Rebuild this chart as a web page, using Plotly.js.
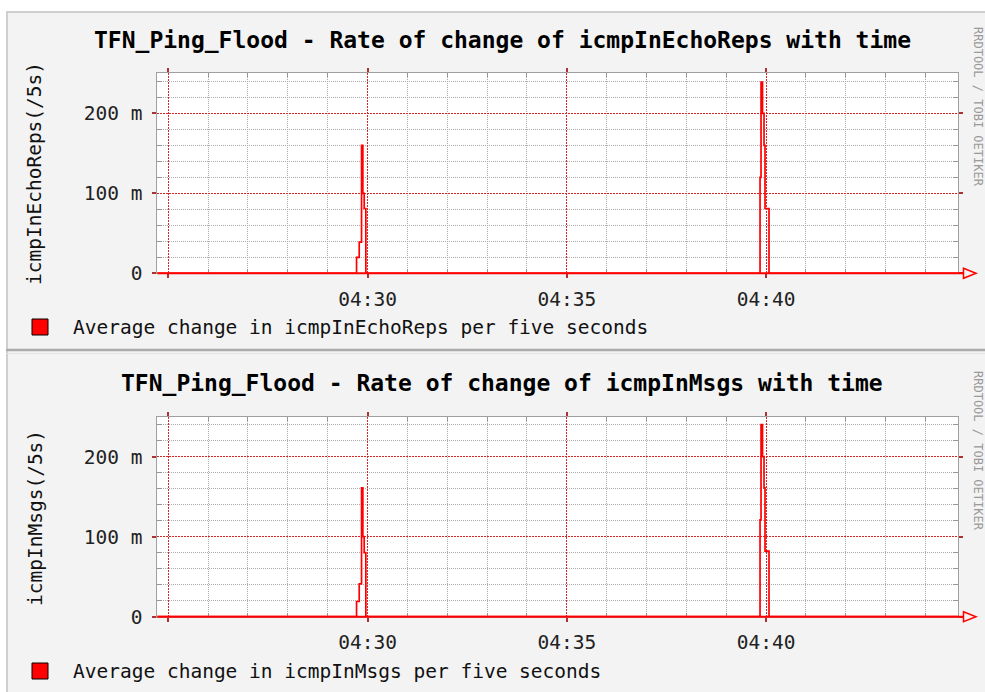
<!DOCTYPE html>
<html><head><meta charset="utf-8">
<script src="https://cdn.plot.ly/plotly-3.0.1.min.js"></script>
<style>html,body{margin:0;padding:0;background:#fff;}#chart{width:985px;height:692px;}</style>
</head><body><div id="chart"></div>
<script>
// ---- data ----
const DAY = '2000-01-01 ';
const echoTimes = ['04:24:43','04:29:43.5','04:29:47.5','04:29:51','04:29:53','04:29:55','04:29:57.5',
                   '04:39:51','04:39:52.5','04:39:54.7','04:39:57','04:39:58.5','04:40:04.5','04:44:50'];
const echoValues = [0,20,39,160,100,81,0,120,239,200,160,81,0,0];          // milli (/5s)
const msgsTimes = ['04:24:43','04:29:43.5','04:29:47.5','04:29:51','04:29:53','04:29:55','04:29:57.5',
                   '04:39:51','04:39:52.5','04:39:54.7','04:39:57','04:39:58.5','04:40:04.5','04:44:50'];
const msgsValues = [0,19,41,161,100,80,0,121,240,200,161,82,0,0];          // milli (/5s)
const xTickTimes = ['04:25','04:30','04:35','04:40'];
const xTickLabels = ['','04:30','04:35','04:40'];
const yTickVals = [0,100,200];
const yTickLabels = ['0','100 m','200 m'];
const titles = ['TFN_Ping_Flood - Rate of change of icmpInEchoReps with time',
                'TFN_Ping_Flood - Rate of change of icmpInMsgs with time'];
const yTitles = ['icmpInEchoReps(/5s)','icmpInMsgs(/5s)'];
const legendTexts = ['Average change in icmpInEchoReps per five seconds',
                     'Average change in icmpInMsgs per five seconds'];
const watermark = 'RRDTOOL / TOBI OETIKER';

// ---- layout helpers ----
const W = 985, H = 692;
const px = x => x / W;
const py = y => 1 - y / H;
const X0 = 157.3, X1 = 958.3;
const panels = [
  {top: 72.7, bottom: 273.3, title: 40, ytitle: 174, legend: 327, wm: 107},
  {top: 416.7, bottom: 616.7, title: 383, ytitle: 518, legend: 671, wm: 451}
];
const MAJ = 'rgb(210,40,40)';
const MIN = 'rgb(170,170,170)';
const FRAME = 'rgb(160,160,160)';
const MONO = 'DejaVu Sans Mono';

// minor grid positions, skipping the major ones
const minorX = [];
for (let m = 25; m <= 44; m++) if (m % 5 !== 0) minorX.push(DAY + '04:' + String(m).padStart(2, '0'));
const minorY = [];
for (let v = 20; v <= 240; v += 20) if (v % 100 !== 0) minorY.push(v);

function xAxis(anchor) {
  return {
    type: 'date', domain: [px(X0), px(X1)], anchor: anchor,
    range: [DAY + '04:24:43.5', DAY + '04:44:49.5'],
    tickmode: 'array', tickvals: xTickTimes.map(t => DAY + t), ticktext: xTickLabels,
    showgrid: true, gridcolor: MAJ, griddash: '2px,1px', gridwidth: 1,
    ticks: 'outside', ticklen: 4, tickcolor: 'rgb(170,50,50)', tickwidth: 2,
    showline: true, linecolor: FRAME, linewidth: 1, mirror: 'ticks',
    tickfont: {family: MONO, size: 19.5, color: '#222'},
    ticklabelstandoff: 4,
    minor: {tickmode: 'array', tickvals: minorX, ticks: 'inside',
            ticklen: 4, tickcolor: 'rgb(150,150,150)', tickwidth: 1,
            showgrid: true, gridcolor: MIN, griddash: '1px,1px', gridwidth: 1},
    zeroline: false, fixedrange: true
  };
}
function yAxis(anchor, p) {
  return {
    domain: [py(p.bottom), py(p.top)], anchor: anchor,
    range: [0, (p.bottom - p.top) / 0.8],
    tickmode: 'array', tickvals: yTickVals, ticktext: yTickLabels,
    showgrid: true, gridcolor: MAJ, griddash: '2px,1px', gridwidth: 1,
    ticks: 'outside', ticklen: 4, tickcolor: 'rgb(170,50,50)', tickwidth: 2,
    showline: true, linecolor: FRAME, linewidth: 1, mirror: 'ticks',
    tickfont: {family: MONO, size: 19.5, color: '#222'},
    ticklabelstandoff: 6,
    minor: {tickmode: 'array', tickvals: minorY, ticks: 'inside',
            ticklen: 5, tickcolor: 'rgb(150,150,150)', tickwidth: 1,
            showgrid: true, gridcolor: MIN, griddash: '1px,1px', gridwidth: 1},
    zeroline: false, fixedrange: true
  };
}

const traces = [
  {x: echoTimes.map(t => DAY + t), y: echoValues, xaxis: 'x', yaxis: 'y',
   mode: 'lines', line: {color: '#ff0000', width: 1.7, shape: 'hv'}, hoverinfo: 'skip'},
  {x: msgsTimes.map(t => DAY + t), y: msgsValues, xaxis: 'x2', yaxis: 'y2',
   mode: 'lines', line: {color: '#ff0000', width: 1.7, shape: 'hv'}, hoverinfo: 'skip'}
];

const shapes = [
  {type: 'rect', xref: 'paper', yref: 'paper', x0: 0, x1: 1, y0: py(0), y1: py(11), fillcolor: '#ffffff', line: {width: 0}, layer: 'below'},
  {type: 'rect', xref: 'paper', yref: 'paper', x0: 0, x1: px(6), y0: 0, y1: 1, fillcolor: '#ffffff', line: {width: 0}, layer: 'below'},
  {type: 'line', xref: 'paper', yref: 'paper', x0: px(6), x1: 1, y0: py(12), y1: py(12), line: {color: '#cfcfcf', width: 2}},
  {type: 'line', xref: 'paper', yref: 'paper', x0: px(7), x1: px(7), y0: 0, y1: py(12), line: {color: '#cfcfcf', width: 2}},
  {type: 'line', xref: 'paper', yref: 'paper', x0: px(6), x1: 1, y0: py(350), y1: py(350), line: {color: '#ababab', width: 2.5}},
  {type: 'line', xref: 'paper', yref: 'paper', x0: px(6), x1: 1, y0: py(353.5), y1: py(353.5), line: {color: '#e2e2e2', width: 1}}
];
const annotations = [];
panels.forEach((p, i) => {
  shapes.push({type: 'line', xref: 'paper', yref: 'paper', x0: px(X0), x1: px(964), y0: py(p.bottom), y1: py(p.bottom),
               line: {color: '#ff0000', width: 2}});
  shapes.push({type: 'path', xref: 'paper', yref: 'paper',
               path: 'M ' + px(963.5) + ',' + py(p.bottom - 5) + ' L ' + px(976) + ',' + py(p.bottom) +
                     ' L ' + px(963.5) + ',' + py(p.bottom + 5) + ' Z',
               fillcolor: 'rgba(0,0,0,0)', line: {color: '#ff0000', width: 1.5}});
  shapes.push({type: 'rect', xref: 'paper', yref: 'paper', x0: px(32), x1: px(48), y0: py(p.legend + 8), y1: py(p.legend - 8),
               fillcolor: '#ff0000', line: {color: '#000000', width: 1}});
  annotations.push({xref: 'paper', yref: 'paper', x: px(502), y: py(p.title), xanchor: 'center', yanchor: 'middle',
                    text: titles[i], showarrow: false, font: {family: MONO, size: 23, weight: 'bold', color: '#000'}});
  annotations.push({xref: 'paper', yref: 'paper', x: px(35), y: py(p.ytitle), xanchor: 'center', yanchor: 'middle',
                    text: yTitles[i], textangle: -90, showarrow: false, font: {family: MONO, size: 19.5, color: '#111'}});
  annotations.push({xref: 'paper', yref: 'paper', x: px(71), y: py(p.legend), xanchor: 'left', yanchor: 'middle',
                    text: legendTexts[i], showarrow: false, font: {family: MONO, size: 19.5, color: '#111'}});
  annotations.push({xref: 'paper', yref: 'paper', x: px(978), y: py(p.wm), xanchor: 'center', yanchor: 'middle',
                    text: watermark, textangle: 90, showarrow: false, font: {family: MONO, size: 12, color: '#9a9a9a'}});
});

const layout = {
  width: W, height: H, autosize: false,
  margin: {l: 0, r: 0, t: 0, b: 0, pad: 0},
  paper_bgcolor: '#f3f3f3', plot_bgcolor: '#ffffff',
  showlegend: false,
  xaxis: xAxis('y'), yaxis: yAxis('x', panels[0]),
  xaxis2: xAxis('y2'), yaxis2: yAxis('x2', panels[1]),
  shapes: shapes, annotations: annotations
};
Plotly.newPlot('chart', traces, layout, {staticPlot: true, displayModeBar: false});
</script>
</body></html>
